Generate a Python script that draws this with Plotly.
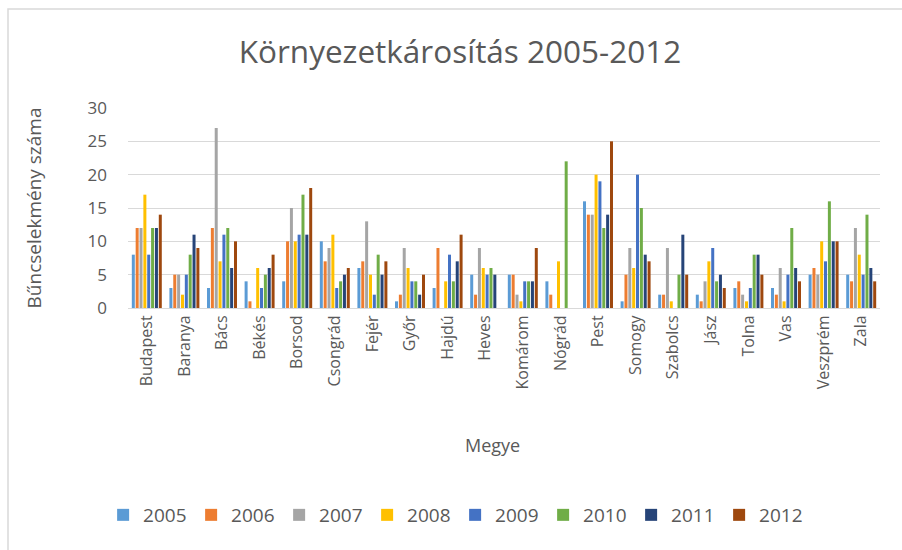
import plotly.graph_objects as go

categories = ["Budapest", "Baranya", "Bács", "Békés", "Borsod", "Csongrád", "Fejér", "Győr",
              "Hajdú", "Heves", "Komárom", "Nógrád", "Pest", "Somogy", "Szabolcs", "Jász",
              "Tolna", "Vas", "Veszprém", "Zala"]

y2005 = [8, 3, 3, 4, 4, 10, 6, 1, 3, 5, 5, 4, 16, 1, 2, 2, 3, 3, 5, 5]
y2006 = [12, 5, 12, 1, 10, 7, 7, 2, 9, 2, 5, 2, 14, 5, 2, 1, 4, 2, 6, 4]
y2007 = [12, 5, 27, 0, 15, 9, 13, 9, 0, 9, 2, 0, 14, 9, 9, 4, 2, 6, 5, 12]
y2008 = [17, 2, 7, 6, 10, 11, 5, 6, 4, 6, 1, 7, 20, 6, 1, 7, 1, 1, 10, 8]
y2009 = [8, 5, 11, 3, 11, 3, 2, 4, 8, 5, 4, 0, 19, 20, 0, 9, 3, 5, 7, 5]
y2010 = [12, 8, 12, 5, 17, 4, 8, 4, 4, 6, 4, 22, 12, 15, 5, 4, 8, 12, 16, 14]
y2011 = [12, 11, 6, 6, 11, 5, 5, 2, 7, 5, 4, 0, 14, 8, 11, 5, 8, 6, 10, 6]
y2012 = [14, 9, 10, 8, 18, 6, 7, 5, 11, 0, 9, 0, 25, 7, 5, 3, 5, 4, 10, 4]

series_names = ["2005", "2006", "2007", "2008", "2009", "2010", "2011", "2012"]
series_values = [y2005, y2006, y2007, y2008, y2009, y2010, y2011, y2012]
colors = ["#5B9BD5", "#ED7D31", "#A5A5A5", "#FFC000", "#4472C4", "#70AD47", "#264478", "#9E480E"]

font_family = "Open Sans, Liberation Sans, sans-serif"
txt = "#595959"

fig = go.Figure()
for name, vals, col in zip(series_names, series_values, colors):
    fig.add_trace(go.Bar(name=name, x=categories, y=vals, marker=dict(color=col, line=dict(width=0))))

fig.update_layout(
    width=902, height=550,
    margin=dict(l=128, r=22, t=108, b=242),
    paper_bgcolor="white", plot_bgcolor="white",
    barmode="group", bargap=0.18, bargroupgap=0.22,
    title=dict(text="Környezetkárosítás 2005-2012", x=0.51, xanchor="center", y=0.905, yanchor="middle",
               font=dict(family=font_family, size=31.5, color=txt)),
    font=dict(family=font_family, color=txt),
    legend=dict(orientation="h", x=0.435, xanchor="center", y=-1.035, yanchor="middle",
                font=dict(size=19, color=txt), itemwidth=30, traceorder="normal",
                entrywidth=43, entrywidthmode="pixels"),
    showlegend=True,
)
fig.update_xaxes(
    type="category", tickangle=-90, tickfont=dict(size=16, color=txt),
    showgrid=False, showline=True, linecolor="#D9D9D9", linewidth=1, ticks="",
    automargin=False,
)
fig.update_yaxes(
    range=[0, 30], dtick=5, tickfont=dict(size=17, color=txt),
    showgrid=True, gridcolor="#D9D9D9", gridwidth=1, zeroline=False, showline=False,
    ticks="", ticklabelstandoff=20, automargin=False,
    title=dict(text="Bűncselekmény száma", font=dict(size=19, color=txt), standoff=40),
)
fig.add_annotation(text="Megye", xref="paper", yref="paper", x=(492 - 128) / 752, y=-137 / 200,
                   xanchor="center", yanchor="middle", showarrow=False,
                   font=dict(family=font_family, size=18, color=txt))
fig.add_shape(type="rect", xref="paper", yref="paper",
              x0=-120/752, x1=1 + 40/752, y0=-260/200, y1=1 + 99/200,
              line=dict(color="#D9D9D9", width=1.5), fillcolor="rgba(0,0,0,0)", layer="below")

fig.write_html("out.html", config={"displayModeBar": False},
               post_script="document.body.style.margin='0px';")
